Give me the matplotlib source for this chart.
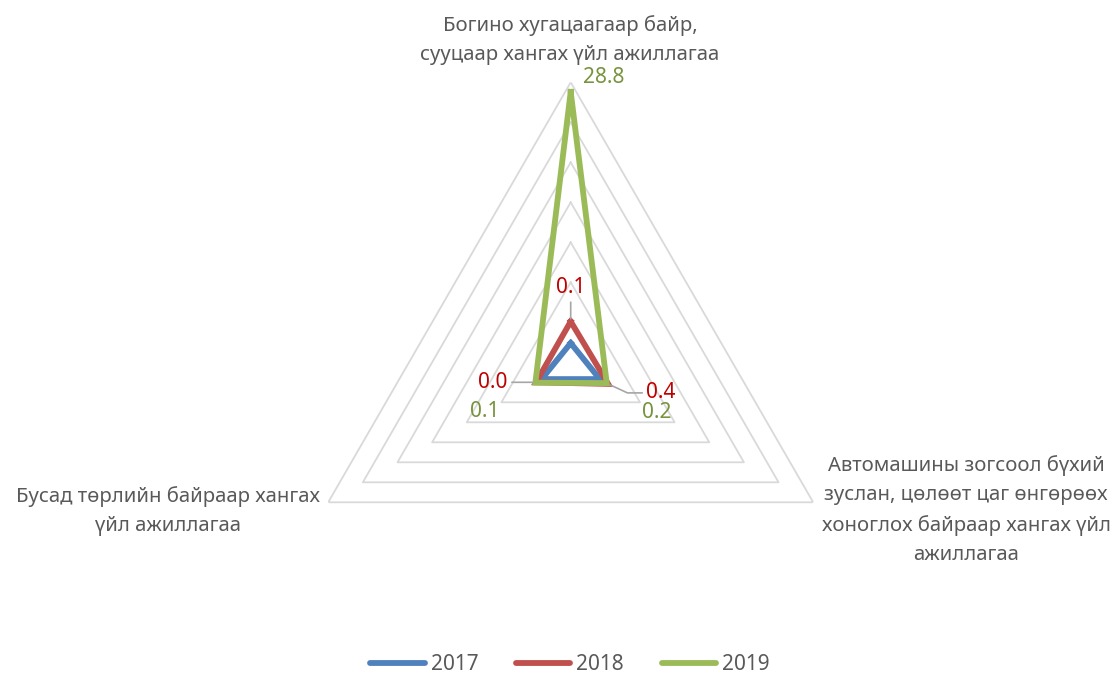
import numpy as np
import matplotlib
matplotlib.use("Agg")
import matplotlib.pyplot as plt
from matplotlib.lines import Line2D

plt.rcParams['font.family'] = ['Noto Sans', 'DejaVu Sans']

# categories (clockwise from top)
categories = [
    "Богино хугацаагаар байр,\nсууцаар хангах үйл ажиллагаа",
    "Автомашины зогсоол бүхий\nзуслан, цөлөөт цаг өнгөрөөх\nхоноглох байраар хангах үйл\nажиллагаа",
    "Бусад төрлийн байраар хангах\nүйл ажиллагаа",
]
years = ["2017", "2018", "2019"]
vals_2017 = [-2.6, -0.8, -0.8]
vals_2018 = [0.1, 0.4, 0.0]
vals_2019 = [28.8, 0.2, 0.1]
colors = ["#4F81BD", "#C0504D", "#9BBB59"]
label_colors = {"2018": "#C00000", "2019": "#77933C"}

r_min, r_max, r_step = -5, 30, 5

W, H = 1116, 675
fig = plt.figure(figsize=(W / 100, H / 100), dpi=100)

# polar axes placed so the radar centre sits at (570.7, 362.3) px, radius 280 px
cx, cy, R = 570.7, 362.3, 280
ax = fig.add_axes([(cx - R) / W, (H - cy - R) / H, 2 * R / W, 2 * R / H], projection="polar")
ax.set_theta_offset(np.pi / 2)
ax.set_theta_direction(-1)
ax.set_rlim(r_min, r_max)
ax.set_xticks([])
ax.set_yticks([])
ax.grid(False)
ax.spines["polar"].set_visible(False)
ax.set_facecolor("none")

angles = np.linspace(0, 2 * np.pi, len(categories), endpoint=False)
closed = np.append(angles, angles[0])

# triangular gridlines
for lev in range(0, r_max + 1, r_step):
    ax.plot(closed, [lev] * (len(angles) + 1), color="#D9D9D9", lw=1.3, zorder=1)

series = [vals_2017, vals_2018, vals_2019]
for vals, col in zip(series, colors):
    ax.plot(closed, vals + vals[:1], color=col, lw=4.2, zorder=3,
            solid_joinstyle="miter")

# data labels (pixel offsets from each point)
lead = dict(arrowstyle="-", color="#A6A6A6", lw=1.2, shrinkA=1, shrinkB=2)
fs = 15
ax.annotate(f"{vals_2018[0]:.1f}", (angles[0], vals_2018[0]), xytext=(0, 34),
            textcoords="offset pixels", ha="center", va="center", fontsize=fs,
            color=label_colors["2018"], arrowprops=lead, zorder=4)
ax.annotate(f"{vals_2018[2]:.1f}", (angles[2], vals_2018[2]), xytext=(-43, 0),
            textcoords="offset pixels", ha="center", va="center", fontsize=fs,
            color=label_colors["2018"], arrowprops=lead, zorder=4)
ax.annotate(f"{vals_2018[1]:.1f}", (angles[1], vals_2018[1]), xytext=(53, -9),
            textcoords="offset pixels", ha="center", va="center", fontsize=fs,
            color=label_colors["2018"],
            arrowprops=dict(lead, relpos=(0, 0.5),
                            connectionstyle="angle,angleA=0,angleB=-25,rad=0"),
            zorder=4)
ax.annotate(f"{vals_2019[0]:.1f}", (angles[0], vals_2019[0]), xytext=(33, 14),
            textcoords="offset pixels", ha="center", va="center", fontsize=fs,
            color=label_colors["2019"], zorder=4)
ax.annotate(f"{vals_2019[2]:.1f}", (angles[2], vals_2019[2]), xytext=(-51, -29),
            textcoords="offset pixels", ha="center", va="center", fontsize=fs,
            color=label_colors["2019"], zorder=4)
ax.annotate(f"{vals_2019[1]:.1f}", (angles[1], vals_2019[1]), xytext=(50, -29),
            textcoords="offset pixels", ha="center", va="center", fontsize=fs,
            color=label_colors["2019"], zorder=4)

# category labels
cat_pos = [(570, 40), (966, 510), (168, 511)]
for txt, (x, y) in zip(categories, cat_pos):
    fig.text(x / W, 1 - y / H, txt, ha="center", va="center", fontsize=14.6,
             color="#595959", linespacing=1.6, multialignment="center")

handles = [Line2D([], [], color=c, lw=4.2, solid_capstyle="round") for c in colors]
fig.legend(handles, years, loc="center", bbox_to_anchor=(570 / W, 1 - 665 / H),
           ncol=3, frameon=False, fontsize=15, labelcolor="#595959",
           handlelength=2.6, handletextpad=0.3, columnspacing=1.8)

fig.savefig("out.png", dpi=100)
